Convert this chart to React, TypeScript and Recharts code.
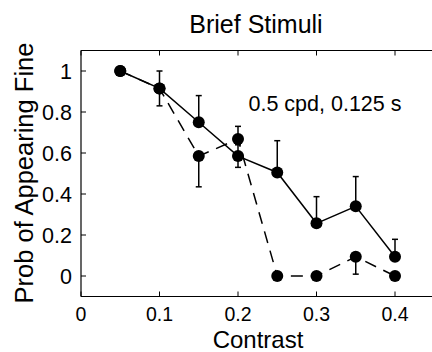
import { LineChart, Line, XAxis, YAxis, ErrorBar } from "recharts";

// contrast levels tested
const contrast = [0.05, 0.1, 0.15, 0.2, 0.25, 0.3, 0.35, 0.4];

// solid curve with [down, up] error lengths
const solidProb = [1.0, 0.915, 0.75, 0.585, 0.505, 0.257, 0.34, 0.094];
const solidErr = [
  [0, 0],
  [0.085, 0.085],
  [0, 0.13],
  [0.055, 0.055],
  [0, 0.155],
  [0, 0.13],
  [0, 0.145],
  [0, 0.085],
];

// dashed curve with [down, up] error lengths
const dashedProb = [1.0, 0.915, 0.585, 0.668, 0, 0, 0.094, 0];
const dashedErr = [
  [0, 0],
  [0, 0],
  [0.15, 0],
  [0, 0.062],
  [0, 0],
  [0, 0],
  [0.085, 0],
  [0, 0],
];

const xTicks = [0, 0.1, 0.2, 0.3, 0.4];
const yTicks = [0, 0.2, 0.4, 0.6, 0.8, 1];

const data = contrast.map((c, i) => ({
  contrast: c,
  solid: solidProb[i],
  solidErr: solidErr[i],
  dashed: dashedProb[i],
  dashedErr: dashedErr[i],
}));

const FONT = '"Liberation Sans", Arial, Helvetica, sans-serif';
const axisLine = { stroke: "#000", strokeWidth: 1.2 };
const tickLine = { stroke: "#000", strokeWidth: 1 };
const dot = { r: 6, fill: "#000", stroke: "none" };

export default function App() {
  return (
    <div
      style={{
        position: "fixed",
        left: 0,
        top: 0,
        width: 432,
        height: 352,
        overflow: "hidden",
        background: "#fff",
        fontFamily: FONT,
      }}
    >
      <LineChart
        width={436}
        height={352}
        data={data}
        margin={{ top: 0, right: 0, bottom: 0, left: 0 }}
        style={{ fontFamily: FONT }}
      >
        <XAxis
          xAxisId="b"
          type="number"
          dataKey="contrast"
          domain={[0, 0.45]}
          ticks={xTicks}
          interval={0}
          height={55.5}
          tickSize={-5}
          tickMargin={16}
          axisLine={axisLine}
          tickLine={tickLine}
          tick={{ fill: "#000", fontSize: 19.5 }}
          label={{
            value: "Contrast",
            content: () => (
              <text x={258} y={348} textAnchor="middle" fontSize={24} fill="#000">
                Contrast
              </text>
            ),
          }}
        />
        <XAxis
          xAxisId="t"
          orientation="top"
          type="number"
          dataKey="contrast"
          domain={[0, 0.45]}
          ticks={xTicks}
          interval={0}
          height={50.5}
          tickSize={-5}
          tickFormatter={() => ""}
          axisLine={axisLine}
          tickLine={tickLine}
          label={{
            value: "Brief Stimuli",
            content: () => (
              <text x={256} y={33} textAnchor="middle" fontSize={25} fill="#000">
                Brief Stimuli
              </text>
            ),
          }}
        />
        <YAxis
          yAxisId="l"
          type="number"
          domain={[-0.1, 1.1]}
          ticks={yTicks}
          interval={0}
          width={81}
          tickSize={-5}
          tickMargin={14}
          axisLine={axisLine}
          tickLine={tickLine}
          tick={{ fill: "#000", fontSize: 21.5 }}
          label={{
            value: "Prob of Appearing Fine",
            content: () => (
              <text
                transform="translate(33,173) rotate(-90)"
                textAnchor="middle"
                fontSize={25.5}
                fill="#000"
              >
                Prob of Appearing Fine
              </text>
            ),
          }}
        />
        <YAxis
          yAxisId="r"
          orientation="right"
          type="number"
          domain={[-0.1, 1.1]}
          ticks={yTicks}
          interval={0}
          width={1.75}
          tickSize={-5}
          tickFormatter={() => ""}
          axisLine={axisLine}
          tickLine={tickLine}
          label={{
            value: "0.5 cpd, 0.125 s",
            content: () => (
              <text x={325} y={111} textAnchor="middle" fontSize={21.5} fill="#000">
                0.5 cpd, 0.125 s
              </text>
            ),
          }}
        />
        <Line
          xAxisId="b"
          yAxisId="l"
          dataKey="dashed"
          stroke="#000"
          strokeWidth={1.5}
          strokeDasharray="12 8"
          dot={dot}
          activeDot={false}
          isAnimationActive={false}
        >
          <ErrorBar dataKey="dashedErr" direction="y" width={3} stroke="#000" strokeWidth={1.5} />
        </Line>
        <Line
          xAxisId="b"
          yAxisId="l"
          dataKey="solid"
          stroke="#000"
          strokeWidth={1.5}
          dot={dot}
          activeDot={false}
          isAnimationActive={false}
        >
          <ErrorBar dataKey="solidErr" direction="y" width={3} stroke="#000" strokeWidth={1.5} />
        </Line>
      </LineChart>
    </div>
  );
}
